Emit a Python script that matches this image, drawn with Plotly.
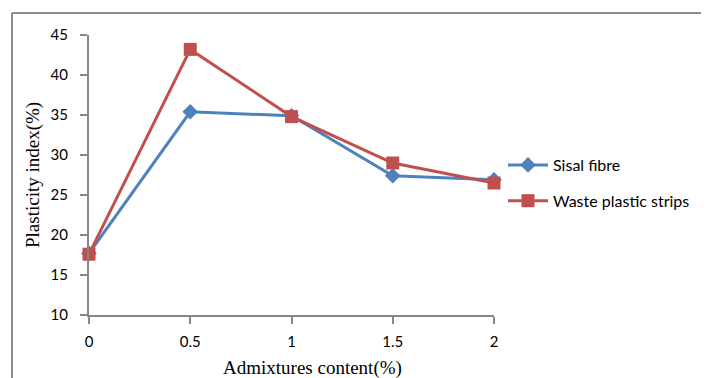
import plotly.graph_objects as go

x_vals = [0, 0.5, 1, 1.5, 2]
sisal = [17.7, 35.4, 34.9, 27.4, 26.9]
waste = [17.6, 43.2, 34.8, 29.0, 26.5]
x_ticks = [0, 0.5, 1, 1.5, 2]
y_ticks = [10, 15, 20, 25, 30, 35, 40, 45]

OFF = 8  # page body margin
W, H = 709 - OFF, 378 - OFF
ml, mt = 89 - OFF, 35 - OFF
pr, pb = 494 - OFF, 315 - OFF
mr, mb = W - pr, H - pb
pw, ph = W - ml - mr, H - mt - mb

def px_x(p):
    return (p - OFF - ml) / pw

def px_y(p):
    return 1 - (p - OFF - mt) / ph

fig = go.Figure()
fig.add_trace(go.Scatter(
    x=x_vals, y=sisal, name="Sisal fibre", mode="lines+markers",
    line=dict(color="#4F81BD", width=3),
    marker=dict(symbol="diamond", size=12, color="#4F81BD"),
    cliponaxis=False, legendgroup="a"))
fig.add_trace(go.Scatter(
    x=x_vals, y=waste, name="Waste plastic strips", mode="lines+markers",
    line=dict(color="#C0504D", width=3),
    marker=dict(symbol="square", size=13, color="#C0504D"),
    cliponaxis=False, legendgroup="b"))

tickfont = dict(family="Lato, Carlito, Arial", size=15, color="#000000")
fig.update_xaxes(range=[0, 2], tickvals=x_ticks, ticktext=[str(v) for v in x_ticks],
                 showgrid=False, zeroline=False, showline=True, linecolor="#868686",
                 linewidth=2, ticks="outside", ticklen=7, tickwidth=2, tickcolor="#868686",
                 tickfont=tickfont, ticklabelstandoff=5, automargin=False)
fig.update_yaxes(range=[10, 45], tickvals=y_ticks,
                 showgrid=False, zeroline=False, showline=True, linecolor="#868686",
                 linewidth=2, ticks="outside", ticklen=7, tickwidth=2, tickcolor="#868686",
                 tickfont=tickfont, ticklabelstandoff=9, automargin=False)

# outer chart frame
fx, fy = px_x(12), px_y(13)
frame = dict(color="#8C8C8C", width=2)
fig.add_shape(type="line", xref="paper", yref="paper",
              x0=fx, x1=fx, y0=px_y(390), y1=fy, line=frame)
fig.add_shape(type="line", xref="paper", yref="paper",
              x0=fx, x1=px_x(720), y0=fy, y1=fy, line=frame)

fig.add_annotation(text="Plasticity index(%)", xref="paper", yref="paper",
                   x=px_x(33), y=px_y(175), textangle=-90, showarrow=False,
                   xanchor="center", yanchor="middle",
                   font=dict(family="Liberation Serif, Times New Roman", size=19, color="#000"))
fig.add_annotation(text="Admixtures content(%)", xref="paper", yref="paper",
                   x=px_x(312), y=px_y(368), showarrow=False,
                   xanchor="center", yanchor="middle",
                   font=dict(family="Liberation Serif, Times New Roman", size=19, color="#000"))

fig.update_layout(
    width=W, height=H,
    margin=dict(l=ml, r=mr, t=mt, b=mb, autoexpand=False),
    paper_bgcolor="white", plot_bgcolor="white",
    showlegend=True,
    legend=dict(x=px_x(503), y=px_y(148), xanchor="left", yanchor="top",
                font=dict(family="Lato, Carlito, Arial", size=16, color="#000"),
                itemwidth=40,
                traceorder="grouped", tracegroupgap=12, bgcolor="rgba(0,0,0,0)"),
)
fig.write_html("out.html")
